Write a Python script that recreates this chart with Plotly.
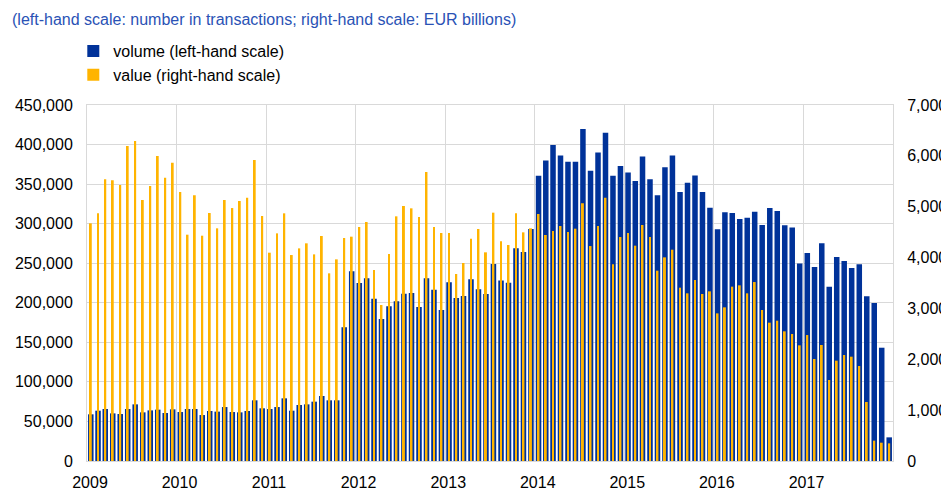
import pandas as pd
import plotly.graph_objects as go

# Monthly data, Jan 2009 - Dec 2017

months = pd.date_range("2009-01-01", periods=108, freq="MS")

volume = [59000, 63600, 65700, 60200, 59400, 65700, 71600, 61500, 64000, 64900, 60700, 65300,
          61900, 65700, 65700, 58100, 63200, 62400, 68200, 61900, 61500, 63200, 76700, 66600,
          65700, 68200, 79200, 63600, 70800, 71600, 75000, 82200, 76700, 76700, 169000, 240000,
          225000, 231000, 205000, 179500, 195500, 201800, 211500, 212300, 194600, 231000, 216500, 190800,
          225800, 206000, 208500, 229600, 217000, 211000, 249000, 228300, 225400, 268800, 264200, 293200,
          360600, 380000, 399400, 386300, 378300, 378300, 419600, 367000, 390000, 415000, 360600, 372800,
          364800, 353900, 385000, 356000, 335800, 371200, 386300, 340000, 351800, 361000, 340000, 320200,
          292800, 314300, 313400, 305900, 307500, 315100, 298300, 319800, 316000, 297900, 295300, 249800,
          262900, 245200, 275100, 220300, 257800, 252800, 243900, 248600, 208100, 199700, 143200, 29900]

value = [4673, 4870, 5538, 5518, 5427, 6193, 6292, 5132, 5407, 5997, 5571, 5866,
         5289, 4450, 5224, 4430, 4876, 4575, 5132, 4974, 5112, 5178, 5918, 4817,
         4096, 4476, 4870, 4050, 4181, 4280, 4063, 4424, 3690, 3965, 4385, 4411,
         4601, 4699, 3755, 3067, 4070, 4811, 5014, 4968, 4797, 5682, 4601, 4483,
         4483, 3677, 3893, 4372, 4562, 4103, 4883, 4319, 4247, 4870, 4496, 4575,
         4857, 4444, 4522, 4621, 4503, 4568, 5066, 4227, 4621, 5178, 3867, 4404,
         4483, 4234, 4640, 4404, 3742, 4004, 4155, 3408, 3297, 3559, 3284, 3336,
         2903, 3021, 3428, 3454, 3297, 3519, 2969, 2720, 2759, 2550, 2497, 2274,
         2477, 2006, 2281, 1593, 1973, 2084, 2051, 1868, 1160, 400, 360, 347]

years = ["2009", "2010", "2011", "2012", "2013", "2014", "2015", "2016", "2017"]
left_ticks = [0, 50000, 100000, 150000, 200000, 250000, 300000, 350000, 400000, 450000]
right_ticks = [0, 1000, 2000, 3000, 4000, 5000, 6000, 7000]

BLUE = "#003299"
ORANGE = "#FFB400"
GRID = "#D9D9D9"
FONT = "Liberation Sans, Arial, sans-serif"

month_ms = 30.4 * 24 * 3600 * 1000

# page body has an 8px margin, so the figure is a bit smaller than the window
W, H = 941, 494

fig = go.Figure()

fig.add_trace(go.Bar(x=months, y=volume,
                     name="volume (left-hand scale)",
                     xperiod="M1", xperiodalignment="middle",
                     width=0.74 * month_ms,
                     marker=dict(color=BLUE, line=dict(width=0)),
                     yaxis="y"))

fig.add_trace(go.Bar(x=months, y=value,
                     name="value (right-hand scale)",
                     xperiod="M1", xperiodalignment="middle",
                     width=0.26 * month_ms,
                     marker=dict(color=ORANGE, line=dict(width=0)),
                     yaxis="y2"))

fig.update_layout(
    width=W, height=H,
    margin=dict(l=79, r=56, t=97, b=41),
    barmode="overlay",
    plot_bgcolor="white", paper_bgcolor="white",
    font=dict(family=FONT, size=16, color="#000000"),
    title=dict(text="(left-hand scale: number in transactions; right-hand scale: EUR billions)",
               font=dict(family=FONT, size=16, color="#2A52B5"),
               xref="container", yref="container",
               x=4 / W, y=1 - 11 / H, xanchor="left", yanchor="middle"),
    showlegend=True,
    legend=dict(x=-0.017, y=1 + 71 / 356, xanchor="left", yanchor="top",
                orientation="v", traceorder="normal",
                font=dict(family=FONT, size=16, color="#000000"),
                bgcolor="rgba(0,0,0,0)", itemclick=False),
    xaxis=dict(type="date", range=["2009-01-01", "2018-01-01"],
               tickvals=[y + "-01-01" for y in years], ticktext=years,
               showgrid=True, gridcolor=GRID, gridwidth=1,
               showline=True, mirror=True, linecolor=GRID,
               ticks="outside", ticklen=7, tickcolor="rgba(0,0,0,0)",
               ticklabelshift=3, automargin=False),
    yaxis=dict(range=[0, 450000], tickvals=left_ticks, tickformat=",d",
               showgrid=True, gridcolor=GRID, gridwidth=1, zeroline=False,
               showline=True, mirror=True, linecolor=GRID,
               ticks="outside", ticklen=10, tickcolor="rgba(0,0,0,0)",
               automargin=False),
    yaxis2=dict(range=[0, 7000], tickvals=right_ticks, tickformat=",d",
                overlaying="y", side="right", showgrid=False, zeroline=False,
                ticks="outside", ticklen=10, tickcolor="rgba(0,0,0,0)",
                automargin=False),
)

fig.write_html("out.html")
